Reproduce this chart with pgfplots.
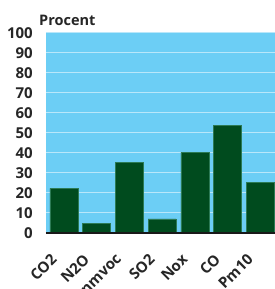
\documentclass[border=0pt]{standalone}
\usepackage{fontspec}
\setmainfont{Open Sans}
\usepackage{pgfplots}
\pgfplotsset{compat=1.18}
\definecolor{bgblue}{HTML}{6CCEF5}
\definecolor{gridw}{HTML}{B9E7FA}
\definecolor{bargreen}{HTML}{004B1E}
\definecolor{baredge}{HTML}{2C7A55}
\begin{document}
\begin{tikzpicture}[x=1pt,y=1pt]
\begin{axis}[
  at={(0,0)}, anchor=south west,
  scale only axis, width=229pt, height=200pt,
  xmin=-0.55, xmax=6.45, ymin=0, ymax=100,
  axis background/.style={fill=bgblue},
  axis line style={draw=none},
  ytick={0,10,...,100},
  xtick={0,1,2,3,4,5,6},
  xticklabels={CO2,N2O,nmvoc,SO2,Nox,CO,Pm10},
  major tick length=0pt,
  ymajorgrids, grid style={draw=gridw, line width=1.3pt},
  tick label style={font=\fontsize{15}{15}\selectfont\bfseries, text=black!85, inner sep=0pt},
  /pgf/number format/assume math mode=true,
  yticklabel style={anchor=east, xshift=-13pt},
  xticklabel style={anchor=east, xshift=-10pt, yshift=-24pt, rotate=45},
  clip=false,
]
\addplot[ybar, bar width=0.857, fill=bargreen, draw=baredge, line width=0.5pt]
  coordinates {(0,22.2) (1,4.5) (2,35.2) (3,6.9) (4,40.2) (5,53.7) (6,25.3)};
\draw[black!90, line width=2pt] (axis cs:-0.55,0) -- (axis cs:6.45,0);
\node[anchor=base west, inner sep=0pt, font=\fontsize{14.5}{14.5}\selectfont\bfseries, text=black!85] at ([xshift=-7pt,yshift=6.7pt]current axis.north west) {Procent};
\end{axis}
\pgfresetboundingbox
\useasboundingbox (-46,-56.3) rectangle (229,232.7);
\end{tikzpicture}
\end{document}
